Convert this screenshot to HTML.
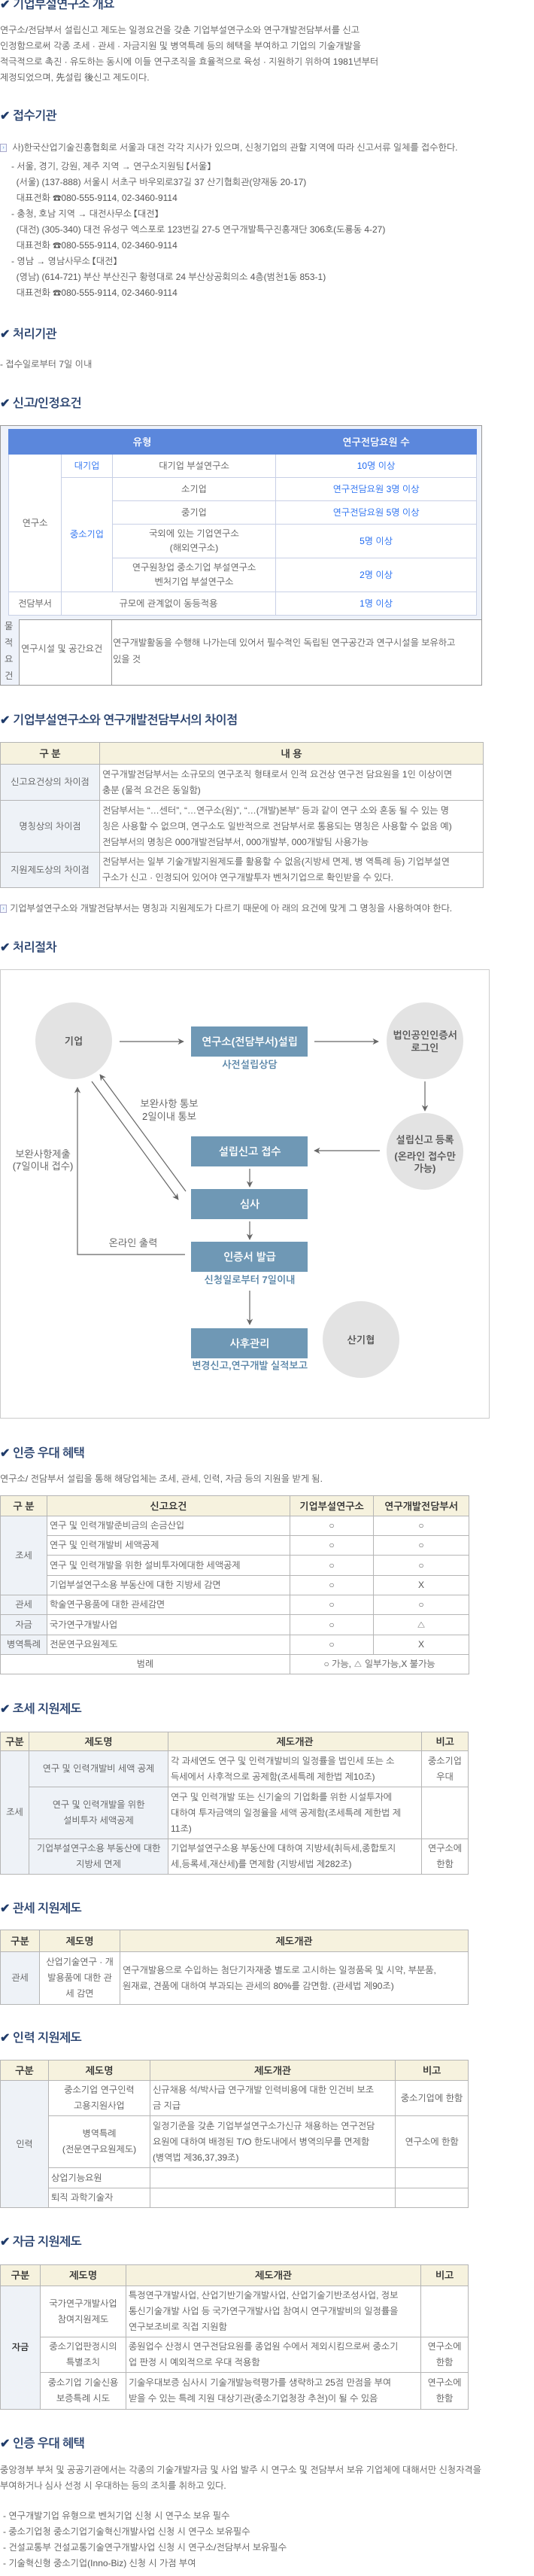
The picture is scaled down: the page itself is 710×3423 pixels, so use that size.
<!DOCTYPE html>
<html><head><meta charset="utf-8">
<style>
*{margin:0;padding:0;box-sizing:border-box}
body{width:710px;height:3423px;position:relative;background:#fff;font-family:"Liberation Sans","NanumGothic","Noto Sans CJK KR",sans-serif;font-size:12px;color:#555;overflow:hidden}
.a{position:absolute;white-space:nowrap}
.h{position:absolute;left:0;font-size:16px;font-weight:bold;color:#2b4470;line-height:20px;letter-spacing:-0.5px}
.h b{color:#1f3b6a;margin-right:4px}
.t{position:absolute;left:0;line-height:21px}
table{border-collapse:collapse;table-layout:fixed;position:absolute;left:0}
td{border:1px solid #b5b5b5;font-size:12px;line-height:21px;padding:0 3px;color:#555;text-align:center;vertical-align:middle;overflow:hidden}
td.l{text-align:left}
tr.hd td{background:#f6f2de;font-weight:bold;color:#333;font-size:13px}
td.c1{background:#eef2f7}
.ico{display:inline-block;width:9px;height:11px;border:1px solid #aac;background:#f4f8ff;vertical-align:middle;margin-right:4px;font-size:7px;line-height:9px;color:#48c;text-align:center}
#req{left:11px;top:570px}
#req td{border:1px solid #c8d0e6;background:#fff}
#req tr.bh td{background:#5b87dc;color:#fff;font-weight:bold;border-color:#5b87dc;font-size:13px}
.bl{color:#1a66f0}
</style></head><body>

<div class="h" style="top:-3px"><b>✔</b>기업부설연구소 개요</div>
<div class="t" style="top:30px;width:560px">연구소/전담부서 설립신고 제도는 일정요건을 갖춘 기업부설연구소와 연구개발전담부서를 신고<br>인정함으로써 각종 조세 · 관세 · 자금지원 및 병역특례 등의 혜택을 부여하고 기업의 기술개발을<br>적극적으로 촉진 · 유도하는 동시에 이들 연구조직을 효율적으로 육성 · 지원하기 위하여 1981년부터<br>제정되었으며, 先설립 後신고 제도이다.</div>

<div class="h" style="top:145px"><b>✔</b>접수기관</div>
<div class="t" style="top:186px"><span class="ico">›</span> 사)한국산업기술진흥협회로 서울과 대전 각각 지사가 있으며, 신청기업의 관할 지역에 따라 신고서류 일체를 접수한다.</div>
<div class="t" style="top:211px;left:15px">- 서울, 경기, 강원, 제주 지역 → 연구소지원팀 【서울】<br>&nbsp;&nbsp;(서울) (137-888) 서울시 서초구 바우뫼로37길 37 산기협회관(양재동 20-17)<br>&nbsp;&nbsp;대표전화 ☎080-555-9114, 02-3460-9114<br>- 충청, 호남 지역 → 대전사무소 【대전】<br>&nbsp;&nbsp;(대전) (305-340) 대전 유성구 엑스포로 123번길 27-5 연구개발특구진흥재단 306호(도룡동 4-27)<br>&nbsp;&nbsp;대표전화 ☎080-555-9114, 02-3460-9114<br>- 영남 → 영남사무소 【대전】<br>&nbsp;&nbsp;(영남) (614-721) 부산 부산진구 황령대로 24 부산상공회의소 4층(범천1동 853-1)<br>&nbsp;&nbsp;대표전화 ☎080-555-9114, 02-3460-9114</div>

<div class="h" style="top:435px"><b>✔</b>처리기관</div>
<div class="t" style="top:474px">- 접수일로부터 7일 이내</div>

<div class="h" style="top:527px"><b>✔</b>신고/인정요건</div>
<div class="a" style="left:0;top:565px;width:641px;height:346px;border:1px solid #999;background:#eef2fa"></div>
<table id="req" style="width:622px">
<colgroup><col style="width:70px"><col style="width:68px"><col style="width:217px"><col style="width:267px"></colgroup>
<tr class="bh" style="height:33px"><td colspan="3">유형</td><td>연구전담요원 수</td></tr>
<tr style="height:31px"><td rowspan="5">연구소</td><td class="bl">대기업</td><td>대기업 부설연구소</td><td class="bl">10명 이상</td></tr>
<tr style="height:31px"><td rowspan="4" class="bl">중소기업</td><td>소기업</td><td class="bl">연구전담요원 3명 이상</td></tr>
<tr style="height:31px"><td>중기업</td><td class="bl">연구전담요원 5명 이상</td></tr>
<tr style="height:45px"><td style="line-height:19px">국외에 있는 기업연구소<br>(해외연구소)</td><td class="bl">5명 이상</td></tr>
<tr style="height:45px"><td style="line-height:19px">연구원창업 중소기업 부설연구소<br>벤처기업 부설연구소</td><td class="bl">2명 이상</td></tr>
<tr style="height:31px"><td>전담부서</td><td colspan="2">규모에 관계없이 동등적용</td><td class="bl">1명 이상</td></tr>
</table>
<div class="a" style="left:0;top:823px;width:641px;height:88px;background:#fff;border:1px solid #999"></div>
<div class="a" style="left:25px;top:823px;width:1px;height:88px;background:#999"></div>
<div class="a" style="left:148px;top:823px;width:1px;height:88px;background:#999"></div>
<div class="a" style="left:1px;top:823px;width:24px;height:87px;background:#eef2fa"></div>
<div class="a" style="left:6px;top:821px;line-height:22px;white-space:normal;width:14px">물<br>적<br>요<br>건</div>
<div class="a" style="left:28px;top:855px">연구시설 및 공간요건</div>
<div class="a" style="left:150px;top:843px;line-height:22px">연구개발활동을 수행해 나가는데 있어서 필수적인 독립된 연구공간과 연구시설을 보유하고<br>있을 것</div>

<div class="h" style="top:948px"><b>✔</b>기업부설연구소와 연구개발전담부서의 차이점</div>
<table style="top:986px;width:642px">
<colgroup><col style="width:132px"><col style="width:510px"></colgroup>
<tr class="hd" style="height:29px"><td>구 분</td><td>내 용</td></tr>
<tr style="height:48px"><td class="c1">신고요건상의 차이점</td><td class="l">연구개발전담부서는 소규모의 연구조직 형태로서 인적 요건상 연구전 담요원을 1인 이상이면<br>충분 (물적 요건은 동일함)</td></tr>
<tr style="height:69px"><td class="c1">명칭상의 차이점</td><td class="l">전담부서는 “…센터”, “…연구소(원)”, “…(개발)본부” 등과 같이 연구 소와 혼동 될 수 있는 명<br>칭은 사용할 수 없으며, 연구소도 일반적으로 전담부서로 통용되는 명칭은 사용할 수 없음 예)<br>전담부서의 명칭은 000개발전담부서, 000개발부, 000개발팀 사용가능</td></tr>
<tr style="height:47px"><td class="c1">지원제도상의 차이점</td><td class="l">전담부서는 일부 기술개발지원제도를 활용할 수 없음(지방세 면제, 병 역특례 등) 기업부설연<br>구소가 신고 · 인정되어 있어야 연구개발투자 벤처기업으로 확인받을 수 있다.</td></tr>
</table>
<div class="t" style="top:1197px"><span class="ico">›</span>기업부설연구소와 개발전담부서는 명칭과 지원제도가 다르기 때문에 아 래의 요건에 맞게 그 명칭을 사용하여야 한다.</div>

<div class="h" style="top:1250px"><b>✔</b>처리절차</div>
<svg class="a" style="left:0;top:1288px" width="652" height="598" viewBox="0 0 652 598">
<defs><marker id="m" viewBox="0 0 10 10" refX="9" refY="5" markerWidth="7" markerHeight="7" orient="auto"><path d="M0,0 L10,5 L0,10 L3,5 z" fill="#666"/></marker></defs>
<rect x="0.5" y="0.5" width="650" height="596" fill="#fff" stroke="#ccc"/>
<g fill="#e3e3e3"><ellipse cx="98" cy="95" rx="51" ry="51"/><ellipse cx="565" cy="95" rx="51" ry="51"/><ellipse cx="565" cy="242" rx="51" ry="51"/><ellipse cx="480" cy="492" rx="51" ry="51"/></g>
<g fill="#6f98b5"><rect x="254" y="76" width="155" height="40"/><rect x="254" y="222" width="155" height="40"/><rect x="254" y="292" width="155" height="40"/><rect x="254" y="362" width="155" height="40"/><rect x="254" y="477" width="155" height="40"/></g>
<g stroke="#666" stroke-width="1.2" fill="none" marker-end="url(#m)">
<line x1="159" y1="96" x2="244" y2="96"/><line x1="418" y1="96" x2="503" y2="96"/>
<line x1="565" y1="149" x2="565" y2="188"/><line x1="505" y1="241" x2="418" y2="241"/>
<line x1="332" y1="265" x2="332" y2="289"/><line x1="332" y1="335" x2="332" y2="359"/>
<line x1="332" y1="427" x2="332" y2="472"/>
<line x1="122" y1="149" x2="237" y2="306"/><line x1="247" y1="295" x2="133" y2="140"/>
<polyline points="246,379 103,379 103,157"/>
</g>
<g font-family="Liberation Sans,NanumGothic,Noto Sans CJK KR,sans-serif" text-anchor="middle" font-weight="bold">
<g fill="#555" font-size="13"><text x="98" y="100">기업</text><text x="565" y="92">법인공인인증서</text><text x="565" y="109">로그인</text>
<text x="565" y="231">설립신고 등록</text><text x="565" y="253">(온라인 접수만</text><text x="565" y="269">가능)</text><text x="480" y="497">산기협</text>
<text x="225" y="183" font-weight="normal">보완사항 통보</text><text x="225" y="200" font-weight="normal">2일이내 통보</text>
<text x="57" y="250" font-weight="normal">보완사항제출</text><text x="57" y="266" font-weight="normal">(7일이내 접수)</text>
<text x="177" y="368" font-weight="normal">온라인 출력</text></g>
<g fill="#fff" font-size="14"><text x="332" y="101">연구소(전담부서)설립</text><text x="332" y="247">설립신고 접수</text><text x="332" y="317">심사</text><text x="332" y="387">인증서 발급</text><text x="332" y="502">사후관리</text></g>
<g fill="#5a86a8" font-size="13"><text x="332" y="131">사전설립상담</text><text x="332" y="417">신청일로부터 7일이내</text><text x="332" y="531">변경신고,연구개발 실적보고</text></g>
</g>
</svg>

<div class="h" style="top:1922px"><b>✔</b>인증 우대 혜택</div>
<div class="t" style="top:1955px">연구소/ 전담부서 설립을 통해 해당업체는 조세, 관세, 인력, 자금 등의 지원을 받게 됨.</div>
<table style="top:1987px;width:623px">
<colgroup><col style="width:62px"><col style="width:323px"><col style="width:111px"><col style="width:127px"></colgroup>
<tr class="hd" style="height:27px"><td>구 분</td><td>신고요건</td><td>기업부설연구소</td><td>연구개발전담부서</td></tr>
<tr style="height:26px"><td rowspan="4" class="c1">조세</td><td class="l">연구 및 인력개발준비금의 손금산입</td><td>○</td><td>○</td></tr>
<tr style="height:26px"><td class="l">연구 및 인력개발비 세액공제</td><td>○</td><td>○</td></tr>
<tr style="height:27px"><td class="l">연구 및 인력개발을 위한 설비투자에대한 세액공제</td><td>○</td><td>○</td></tr>
<tr style="height:26px"><td class="l">기업부설연구소용 부동산에 대한 지방세 감면</td><td>○</td><td>X</td></tr>
<tr style="height:26px"><td class="c1">관세</td><td class="l">학술연구용품에 대한 관세감면</td><td>○</td><td>○</td></tr>
<tr style="height:27px"><td class="c1">자금</td><td class="l">국가연구개발사업</td><td>○</td><td>△</td></tr>
<tr style="height:26px"><td class="c1">병역특례</td><td class="l">전문연구요원제도</td><td>○</td><td>X</td></tr>
<tr style="height:26px"><td colspan="2">범례</td><td colspan="2">○ 가능, △ 일부가능,X 불가능</td></tr>
</table>

<div class="h" style="top:2262px"><b>✔</b>조세 지원제도</div>
<table style="top:2301px;width:622px">
<colgroup><col style="width:38px"><col style="width:185px"><col style="width:337px"><col style="width:62px"></colgroup>
<tr class="hd" style="height:25px"><td>구분</td><td>제도명</td><td>제도개관</td><td>비고</td></tr>
<tr style="height:48px"><td rowspan="3" class="c1">조세</td><td class="c1">연구 및 인력개발비 세액 공제</td><td class="l">각 과세연도 연구 및 인력개발비의 일정률을 법인세 또는 소<br>득세에서 사후적으로 공제함(조세특례 제한법 제10조)</td><td>중소기업<br>우대</td></tr>
<tr style="height:69px"><td class="c1">연구 및 인력개발을 위한<br>설비투자 세액공제</td><td class="l">연구 및 인력개발 또는 신기술의 기업화를 위한 시설투자에<br>대하여 투자금액의 일정율을 세액 공제함(조세특례 제한법 제<br>11조)</td><td></td></tr>
<tr style="height:47px"><td class="c1" style="padding:0">기업부설연구소용 부동산에 대한<br>지방세 면제</td><td class="l">기업부설연구소용 부동산에 대하여 지방세(취득세,종합토지<br>세,등록세,재산세)를 면제함 (지방세법 제282조)</td><td>연구소에<br>한함</td></tr>
</table>

<div class="h" style="top:2527px"><b>✔</b>관세 지원제도</div>
<table style="top:2564px;width:622px">
<colgroup><col style="width:52px"><col style="width:107px"><col style="width:463px"></colgroup>
<tr class="hd" style="height:29px"><td>구분</td><td>제도명</td><td>제도개관</td></tr>
<tr style="height:70px"><td class="c1">관세</td><td>산업기술연구 · 개<br>발용품에 대한 관<br>세 감면</td><td class="l">연구개발용으로 수입하는 첨단기자재중 별도로 고시하는 일정품목 및 시약, 부분품,<br>원재료, 견품에 대하여 부과되는 관세의 80%를 감면함. (관세법 제90조)</td></tr>
</table>

<div class="h" style="top:2699px"><b>✔</b>인력 지원제도</div>
<table style="top:2737px;width:622px">
<colgroup><col style="width:64px"><col style="width:135px"><col style="width:326px"><col style="width:97px"></colgroup>
<tr class="hd" style="height:27px"><td>구분</td><td>제도명</td><td>제도개관</td><td>비고</td></tr>
<tr style="height:47px"><td rowspan="4" class="c1">인력</td><td>중소기업 연구인력<br>고용지원사업</td><td class="l">신규채용 석/박사급 연구개발 인력비용에 대한 인건비 보조<br>금 지급</td><td>중소기업에 한함</td></tr>
<tr style="height:69px"><td>병역특례<br>(전문연구요원제도)</td><td class="l">일정기준을 갖춘 기업부설연구소가신규 채용하는 연구전담<br>요원에 대하여 배정된 T/O 한도내에서 병역의무를 면제함<br>(병역법 제36,37,39조)</td><td>연구소에 한함</td></tr>
<tr style="height:27px"><td class="l">상업기능요원</td><td></td><td></td></tr>
<tr style="height:26px"><td class="l">퇴직 과학기술자</td><td></td><td></td></tr>
</table>

<div class="h" style="top:2970px"><b>✔</b>자금 지원제도</div>
<table style="top:3009px;width:622px">
<colgroup><col style="width:53px"><col style="width:114px"><col style="width:392px"><col style="width:63px"></colgroup>
<tr class="hd" style="height:28px"><td>구분</td><td>제도명</td><td>제도개관</td><td>비고</td></tr>
<tr style="height:68px"><td rowspan="3" class="c1" style="font-weight:bold;color:#333">자금</td><td>국가연구개발사업<br>참여지원제도</td><td class="l">특정연구개발사업, 산업기반기술개발사업, 산업기술기반조성사업, 정보<br>통신기술개발 사업 등 국가연구개발사업 참여시 연구개발비의 일정률을<br>연구보조비로 직접 지원함</td><td></td></tr>
<tr style="height:47px"><td>중소기업판정시의<br>특별조치</td><td class="l">종원업수 산정시 연구전담요원를 종업원 수에서 제외시킴으로써 중소기<br>업 판정 시 예외적으로 우대 적용함</td><td>연구소에<br>한함</td></tr>
<tr style="height:49px"><td>중소기업 기술신용<br>보증특례 시도</td><td class="l">기술우대보증 심사시 기술개발능력평가를 생략하고 25점 만점을 부여<br>받을 수 있는 특례 지원 대상기관(중소기업청장 추천)이 될 수 있음</td><td>연구소에<br>한함</td></tr>
</table>

<div class="h" style="top:3238px"><b>✔</b>인증 우대 혜택</div>
<div class="t" style="top:3272px">중앙정부 부처 및 공공기관에서는 각종의 기술개발자금 및 사업 발주 시 연구소 및 전담부서 보유 기업체에 대해서만 신청자격을<br>부여하거나 심사 선정 시 우대하는 등의 조치를 취하고 있다.</div>
<div class="t" style="top:3333px;left:4px">- 연구개발기업 유형으로 벤처기업 신청 시 연구소 보유 필수<br>- 중소기업청 중소기업기술혁신개발사업 신청 시 연구소 보유필수<br>- 건설교통부 건설교통기술연구개발사업 신청 시 연구소/전담부서 보유필수<br>- 기술혁신형 중소기업(Inno-Biz) 신청 시 가점 부여</div>
</body></html>
